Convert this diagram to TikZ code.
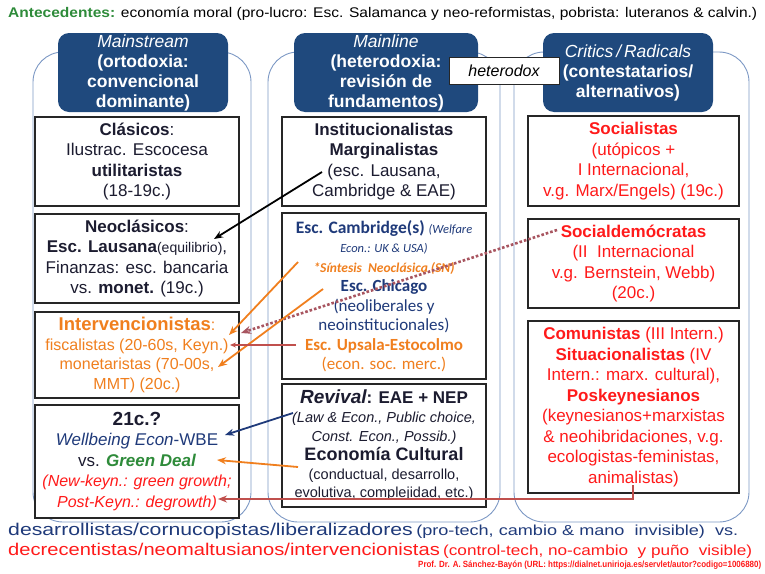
\documentclass[tikz,border=0pt]{standalone}
\usepackage{fontspec}
\setmainfont{Liberation Sans}
\newfontfamily\calib{Carlito}
\usepackage{graphicx}
\usetikzlibrary{arrows.meta, calc}
\definecolor{hdrfill}{HTML}{1F497D}
\definecolor{colline}{HTML}{7C98C4}
\definecolor{inkdark}{HTML}{1C1C30}
\definecolor{navy}{HTML}{1F3A7A}
\definecolor{orng}{HTML}{F07F1E}
\definecolor{rojo}{HTML}{FF1A1A}
\definecolor{verde}{HTML}{2E8B3A}
\definecolor{lnkred}{HTML}{C0504D}
\definecolor{lnkdot}{HTML}{A85560}
\newcommand\fsz[2]{\fontsize{#1}{#2}\selectfont}
\newcommand\fitw[2]{\resizebox{#1}{\height}{#2}}
\tikzset{
  colbox/.style={draw=colline, line width=0.9pt, rounded corners=30pt},
  hdr/.style={rectangle, rounded corners=11pt, fill=hdrfill, text=white, align=center, font=\fsz{17.5}{20}\bfseries, inner sep=0pt, minimum height=79pt},
  blk/.style={rectangle, draw=black!85, line width=1.3pt, fill=white, align=center, font=\fsz{17}{20.5}, text=inkdark, inner sep=0pt},
  lblk/.style={blk, minimum width=204pt},
  rblk/.style={blk, minimum width=211pt},
  tag/.style={rectangle, draw=black!85, line width=1pt, fill=white, font=\fsz{16}{19}\itshape, inner sep=0pt, minimum width=110pt, minimum height=27pt},
  line1/.style={anchor=west, inner sep=0pt},
  lnk/.style={-{Stealth[length=9pt, width=7pt]}, line width=1.8pt},
  lnkdots/.style={-{Stealth[length=10pt, width=8pt]}, draw=lnkdot, line width=2.6pt, dash pattern=on 2.6pt off 2pt},
}
\begin{document}
\begin{tikzpicture}[x=1pt, y=-1pt]
  \useasboundingbox (0,0) rectangle (765,573);

  % columns
  \draw[colbox] (33,52) rectangle (251,522);
  \draw[colbox] (268,52) rectangle (500,522);
  \draw[colbox] (514,52) rectangle (749,522);

  % headers
  \node[hdr, minimum width=170pt] (mstream) at (143,72.5) {{\itshape\mdseries Mainstream}\\(ortodoxia:\\convencional\\dominante)};
  \node[hdr, minimum width=184pt] (mline) at (386,72.5) {{\itshape\mdseries Mainline}\\(heterodoxia:\\revisión de\\fundamentos)};
  \node[hdr, minimum width=170pt] (critics) at (628,72.5) {{\itshape\mdseries Critics\,/\,Radicals}\\(contestatarios/\\alternativos)};
  \node[tag] (hetero) at (504,71) {heterodox};

  % left column
  \node[lblk, minimum height=89pt] (clasicos) at (137,161.5) {{\bfseries Clásicos}:\\\fitw{142pt}{Ilustrac. Escocesa}\\{\bfseries utilitaristas}\\(18-19c.)};
  \node[lblk, minimum height=89pt] (neoclas) at (137,258.5) {{\bfseries Neoclásicos}:\\{\bfseries Esc. Lausana}{\fsz{14}{17}(equilibrio)},\\Finanzas: esc. bancaria\\vs. {\bfseries monet.} (19c.)};
  \node[lblk, minimum height=86pt, text=orng, font=\fsz{16}{19.5}] (interv) at (137,355) {{\fsz{18.5}{21}\bfseries Intervencionistas}:\\fiscalistas (20-60s, Keyn.)\\monetaristas (70-00s,\\MMT) (20c.)};
  \node[lblk, minimum height=113pt] (sxxi) at (137,461.5) {{\fsz{19}{21}\bfseries 21c.?}\\{\color{navy}{\itshape Wellbeing Econ}-WBE}\\vs. {\color{verde}\bfseries\itshape Green Deal}\\{\color{rojo}\fsz{16}{19}\itshape (New-keyn.: green growth;}\\{\color{rojo}\fsz{16}{19}\itshape Post-Keyn.: degrowth)}};

  % middle column
  \node[lblk, minimum height=89pt] (instit) at (384,161.5) {{\bfseries Institucionalistas}\\{\bfseries Marginalistas}\\(esc. Lausana,\\Cambridge \& EAE)};
  \node[lblk, minimum height=166pt, font=\calib\fsz{17}{19.5}, text=navy] (cambr) at (384,296) {{\fsz{17.5}{19.5}\bfseries Esc. Cambridge(s)} {\fsz{12.5}{15}\itshape (Welfare}\\{\fsz{12.5}{15}\itshape Econ.: UK \& USA)}\\{\color{orng}\fsz{13.5}{15}\bfseries\itshape *Síntesis\ \ Neoclásica (SN)}\\{\bfseries Esc. Chicago}\\(neoliberales y\\neoinstitucionales)\\{\color{orng}\bfseries Esc. Upsala-Estocolmo}\\{\color{orng}(econ. soc. merc.)}};
  \node[lblk, minimum height=123pt, font=\fsz{14.5}{18.8}] (revival) at (384,445.5) {{\fsz{19}{21}\bfseries\itshape Revival}{\fsz{17}{20}\bfseries: EAE + NEP}\\{\itshape (Law \& Econ., Public choice,}\\{\itshape Const. Econ., Possib.)}\\{\fsz{18}{20}\bfseries Economía Cultural}\\(conductual, desarrollo,\\evolutiva, complejidad, etc.)};

  % right column
  \node[rblk, minimum height=90pt, text=rojo] (social) at (633.5,161) {{\bfseries Socialistas}\\(utópicos +\\I Internacional,\\v.g. Marx/Engels) (19c.)};
  \node[rblk, minimum height=89pt, text=rojo] (socdem) at (633.5,263.5) {{\bfseries Socialdemócratas}\\(II\ \ Internacional\\v.g. Bernstein, Webb)\\(20c.)};
  \node[rblk, minimum height=172pt, text=rojo] (comun) at (633.5,407) {{\bfseries Comunistas} (III Intern.)\\{\bfseries Situacionalistas} (IV\\Intern.: marx. cultural),\\{\bfseries Poskeynesianos}\\(keynesianos+marxistas\\\& neohibridaciones, v.g.\\ecologistas-feministas,\\animalistas)};

  % link ends
  \coordinate (lausA) at (322,172);
  \coordinate (lausB) at (214,239);
  \coordinate (sintA) at (298,262);
  \coordinate (sintB) at (229,335);
  \coordinate (chicA) at (323,289);
  \coordinate (chicB) at (218,367);
  \coordinate (sdemA) at (557,230);
  \coordinate (sdemB) at (241,333);
  \coordinate (upsaA) at (296,345);
  \coordinate (upsaB) at (230,345);
  \coordinate (nepA) at (293,413);
  \coordinate (nepB) at (225,435);
  \coordinate (cultA) at (298,467);
  \coordinate (cultB) at (217,460);
  \coordinate (poskA) at (633,485);
  \coordinate (poskB) at (218,499);

  \draw[lnk, draw=black] (lausA) -- (lausB);
  \draw[lnkdots] (sdemA) -- (sdemB);
  \draw[lnk, draw=orng] (sintA) -- (sintB);
  \draw[lnk, draw=orng] (chicA) -- (chicB);
  \draw[-{Stealth[length=6pt, width=5pt]}, draw=lnkred, line width=1.3pt] (upsaA) -- (upsaB);
  \draw[lnk, draw=navy] (nepA) -- (nepB);
  \draw[lnk, draw=orng] (cultA) -- (cultB);
  \draw[lnk, draw=lnkred] (poskA) |- (poskB);

  % top and bottom lines
  \node[line1] (antec) at (8,14) {\fitw{749pt}{\fsz{14}{16}{\color{verde}\bfseries Antecedentes:} economía moral (pro-lucro: Esc. Salamanca y neo-reformistas, pobrista: luteranos \& calvin.)}};
  \node[line1, text=navy] (desarr) at (8,531) {\fitw{730pt}{{\fsz{17}{19}desarrollistas/cornucopistas/liberalizadores} {\fsz{14.5}{17}(pro-tech, cambio \& mano\ \ invisible)\ \ vs.}}};
  \node[line1, text=rojo] (decrec) at (8,551) {\fitw{744pt}{{\fsz{17}{19}decrecentistas/neomaltusianos/intervencionistas} {\fsz{14.5}{17}(control-tech, no-cambio\ \ y puño\ \ visible)}}};
  \node[line1, text=rojo] (autor) at (418,565) {\fitw{343pt}{\fsz{9}{10}\bfseries Prof. Dr. A. Sánchez-Bayón (URL: https://dialnet.unirioja.es/servlet/autor?codigo=1006880)}};
\end{tikzpicture}
\end{document}
